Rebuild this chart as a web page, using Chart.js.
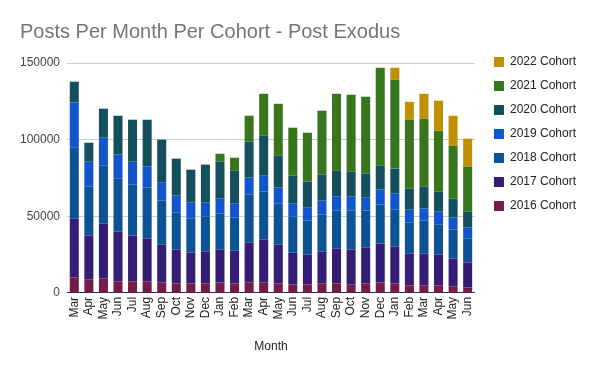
<!DOCTYPE html>
<html>
<head>
<meta charset="utf-8">
<script src="https://cdn.jsdelivr.net/npm/chart.js@4.4.1/dist/chart.umd.min.js"></script>
<style>
  body { margin: 0; background: #fff; }
</style>
</head>
<body>
<canvas id="cohorts" width="600" height="371"></canvas>
<script>
// months, Mar 2020 .. Jun 2022
var months = ["Mar","Apr","May","Jun","Jul","Aug","Sep","Oct","Nov","Dec","Jan","Feb",
              "Mar","Apr","May","Jun","Jul","Aug","Sep","Oct","Nov","Dec","Jan","Feb",
              "Mar","Apr","May","Jun"];

var cohort2016 = [10000,8700,9300,7400,7400,7400,6700,6100,6100,6100,6700,6100,
                  6700,6700,6100,5400,5400,6100,6100,5400,6100,6700,6100,4800,
                  4800,4800,4100,3500];
var cohort2017 = [38600,28700,35900,32600,30000,28000,24800,22100,20200,20800,21500,21500,
                  26100,28100,25400,20900,19600,20800,22800,22800,23500,25500,24100,20800,
                  20800,20200,18300,16300];
var cohort2018 = [46100,31900,37800,34500,33200,33300,28700,24200,22200,22900,23500,21500,
                  31300,31300,26700,23500,22200,24200,24800,25500,24100,25400,24100,20300,
                  21600,19500,18900,15600];
var cohort2019 = [29600,16300,18300,15900,15000,13700,11700,11100,10400,9100,9800,9100,
                  11100,10400,10500,8400,8400,9100,9100,9100,8400,9800,10500,8400,
                  7800,8500,7800,7200];
var cohort2020 = [13500,12400,18900,25200,27400,30600,28100,24100,21500,24800,24100,21500,
                  23500,26100,20800,18300,17000,16900,16900,16300,15700,15600,16300,13700,
                  14300,13100,12400,10400];
var cohort2021 = [null,null,null,null,null,null,null,null,null,null,5200,8500,
                  16900,27300,33900,31300,31900,41800,50200,50200,50200,63900,58000,45000,
                  44300,39700,34500,29400];
var cohort2022 = [null,null,null,null,null,null,null,null,null,null,null,null,
                  null,null,null,null,null,null,null,null,null,null,7800,11700,
                  16300,19600,19600,18200];

var yTicks = [0, 50000, 100000, 150000];

var font = "'Liberation Sans', Arial, sans-serif";

function ds(label, data, color) {
  return {
    label: label,
    data: data,
    backgroundColor: color,
    barPercentage: 0.62,
    categoryPercentage: 1
  };
}

new Chart("cohorts", {
  type: "bar",
  data: {
    labels: months,
    datasets: [
      ds("2016 Cohort", cohort2016, "#741b47"),
      ds("2017 Cohort", cohort2017, "#351c75"),
      ds("2018 Cohort", cohort2018, "#0b5394"),
      ds("2019 Cohort", cohort2019, "#1155cc"),
      ds("2020 Cohort", cohort2020, "#134f5c"),
      ds("2021 Cohort", cohort2021, "#38761d"),
      ds("2022 Cohort", cohort2022, "#bf9000")
    ]
  },
  options: {
    responsive: false,
    animation: false,
    devicePixelRatio: 1,
    layout: { padding: { left: 20, right: 14, top: 0, bottom: 17 } },
    plugins: {
      title: {
        display: true,
        text: "Posts Per Month Per Cohort - Post Exodus",
        align: "start",
        color: "#757575",
        font: { family: font, size: 20, weight: "normal" },
        padding: { top: 20, bottom: 19 }
      },
      legend: {
        position: "right",
        align: "start",
        reverse: true,
        title: { display: true, text: " ", font: { size: 10 }, padding: 16 },
        labels: {
          boxWidth: 10,
          boxHeight: 10,
          padding: 12,
          color: "#222",
          font: { family: font, size: 12 }
        }
      },
      tooltip: { enabled: false }
    },
    scales: {
      x: {
        stacked: true,
        grid: { display: false, drawTicks: false },
        border: { color: "#333" },
        ticks: {
          color: "#222",
          font: { family: font, size: 12 },
          minRotation: 90,
          maxRotation: 90,
          autoSkip: false,
          padding: 4
        },
        title: {
          display: true,
          text: "Month",
          color: "#222",
          font: { family: font, size: 12 },
          padding: { top: 16, bottom: 0 }
        }
      },
      y: {
        stacked: true,
        min: 0,
        max: 150000,
        afterBuildTicks: function (s) {
          s.ticks = yTicks.map(function (v) { return { value: v }; });
        },
        afterFit: function (s) { s.width = 47; },
        grid: { color: "#ccc", drawTicks: false },
        border: { display: false },
        ticks: {
          color: "#444",
          font: { family: font, size: 12 },
          padding: 7,
          callback: function (v) { return String(v); }
        }
      },
      // empty strip between the plot and the legend
      gap: {
        position: "right",
        display: false,
        afterFit: function (s) { s.width = 7; }
      }
    }
  }
});
</script>
</body>
</html>
